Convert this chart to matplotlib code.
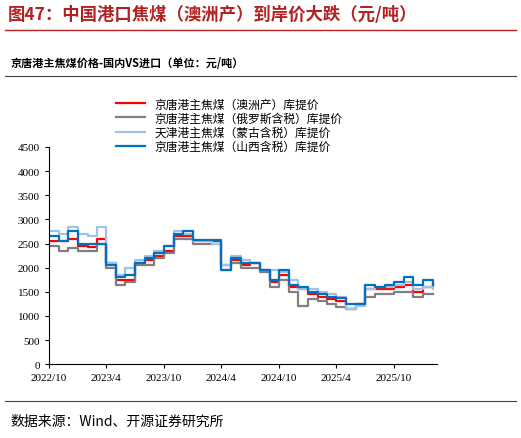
import matplotlib
matplotlib.use("Agg")
import matplotlib.pyplot as plt
import pandas as pd
from matplotlib.lines import Line2D

plt.rcParams['font.family'] = ['Noto Sans CJK SC', 'DejaVu Sans']

dates = pd.date_range("2022-10-01", periods=41, freq="MS")
aus = [2550,2550,2600,2450,2420,2600,2100,1750,1750,2100,2150,2250,2350,2650,2650,2550,2550,2550,2050,2150,2050,2100,1950,1700,1850,1600,1550,1450,1400,1350,1300,1150,1250,1550,1550,1550,1600,1650,1500,1600,1700]
rus = [2450,2350,2400,2350,2350,2500,2000,1650,1700,2050,2050,2200,2300,2600,2600,2500,2500,2500,1950,2100,2000,2000,1900,1600,1750,1500,1200,1350,1300,1250,1180,1150,1250,1400,1450,1450,1500,1500,1400,1450,1450]
mon = [2750,2700,2850,2700,2650,2850,2100,1850,2000,2150,2250,2350,2450,2750,2700,2550,2550,2500,2050,2250,2150,2100,1950,1950,1900,1750,1550,1550,1500,1450,1400,1150,1200,1550,1600,1600,1650,1700,1550,1600,1550]
shx = [2650,2550,2750,2500,2500,2500,2050,1800,1850,2100,2200,2300,2450,2700,2750,2580,2580,2580,1950,2200,2100,2100,1950,1750,1950,1650,1600,1500,1450,1400,1380,1250,1250,1650,1600,1650,1700,1800,1650,1750,1650]
labels = ["京唐港主焦煤（澳洲产）库提价","京唐港主焦煤（俄罗斯含税）库提价","天津港主焦煤（蒙古含税）库提价","京唐港主焦煤（山西含税）库提价"]
colors = ["#FF0000","#7F7F7F","#9DC3E6","#0070C0"]
xticks = ["2022/10","2023/4","2023/10","2024/4","2024/10","2025/4","2025/10"]

fig = plt.figure(figsize=(5.21,4.39), dpi=100)
fig.text(0.015,0.965,"图47：中国港口焦煤（澳洲产）到岸价大跌（元/吨）",fontsize=12.5,fontweight='bold',color='#B22222',va='center')
fig.add_artist(Line2D([0.01,0.99],[0.93,0.93],color='#B22222',lw=1))
fig.text(0.02,0.855,"京唐港主焦煤价格-国内VS进口（单位：元/吨）",fontsize=8,fontweight='bold',va='center')
fig.add_artist(Line2D([0.01,0.99],[0.825,0.825],color='#444444',lw=0.8))
fig.add_artist(Line2D([0.01,0.99],[0.085,0.085],color='#444444',lw=0.8))
fig.text(0.02,0.04,"数据来源：Wind、开源证券研究所",fontsize=10,va='center')

ax = fig.add_axes([0.094,0.168,0.745,0.495])
for s,l,c in zip([aus,rus,mon,shx],labels,colors):
    ax.plot(dates,s,drawstyle='steps-post',color=c,lw=1.6,label=l)
ax.set_ylim(0,4500)
ax.set_yticks(range(0,4501,500))
ax.set_xlim(pd.Timestamp("2022-10-01"),pd.Timestamp("2026-02-15"))
ax.set_xticks([pd.Timestamp(x.replace('/','-')+"-01") for x in xticks])
ax.set_xticklabels(xticks)
for sp in ['top','right']:
    ax.spines[sp].set_visible(False)
ax.tick_params(labelsize=8,length=3)
for t in ax.get_xticklabels()+ax.get_yticklabels():
    t.set_family(['Liberation Serif','DejaVu Serif'])
ax.legend(loc='upper left',bbox_to_anchor=(0.16,1.25),frameon=False,fontsize=8.5,handlelength=2.5,labelspacing=0.1,borderaxespad=0)
fig.savefig("out.png",dpi=100)
